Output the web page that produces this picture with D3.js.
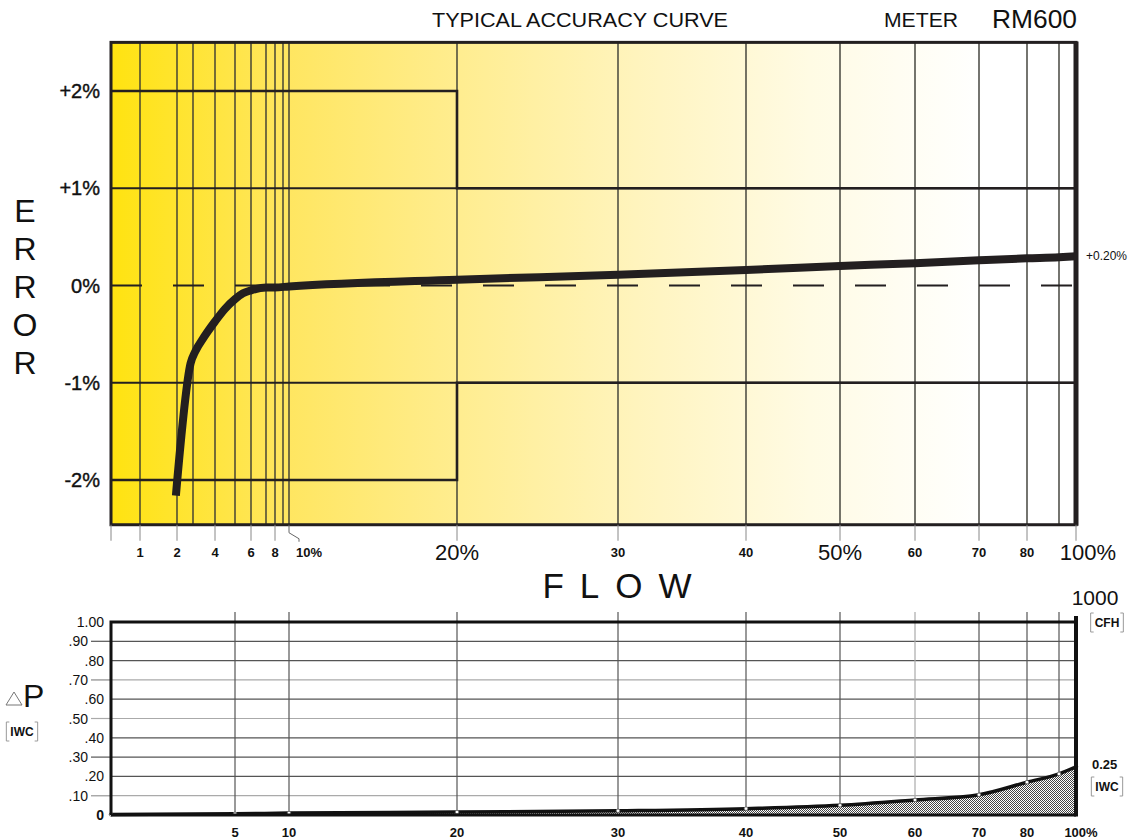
<!DOCTYPE html>
<html>
<head>
<meta charset="utf-8">
<script src="https://cdn.jsdelivr.net/npm/d3@7"></script>
<style>
  body { margin: 0; background: #fff; }
  text { font-family: "Liberation Sans", Arial, sans-serif; fill: #111; }
</style>
</head>
<body>
<script>
// accuracy curve (flow % vs error %)
const accFlow  = [1.97, 2.85, 3.1, 3.5, 4, 4.5, 5, 5.5, 6, 7, 8, 10, 20, 30, 40, 50, 60, 70, 80, 90, 100]
const accError = [-2.16, -0.80, -0.68, -0.53, -0.37, -0.24, -0.14, -0.08, -0.05, -0.02, -0.02, -0.01, 0.06, 0.11, 0.16, 0.20, 0.23, 0.26, 0.28, 0.29, 0.30]

// accuracy limits envelope
const limitFlow  = [0, 20, 20, 100]
const limitUpper = [2, 2, 1, 1]
const limitLower = [-2, -2, -1, -1]

// pressure drop curve (flow % vs IWC)
const dpFlow  = [0, 5, 10, 20, 30, 40, 50, 60, 70, 80, 90, 100]
const dpValue = [0.003, 0.006, 0.01, 0.015, 0.022, 0.033, 0.05, 0.078, 0.105, 0.17, 0.213, 0.25]

// ticks / gridlines
const errTicks = [2, 1, 0, -1, -2]
const errTickLabels = ['+2%', '+1%', '0%', '-1%', '-2%']
const topGrid = [1, 2, 3, 4, 5, 6, 7, 8, 9, 10, 20, 30, 40, 50, 60, 70, 80, 90]
const topTicks = [0, 1, 2, 4, 6, 8, 20, 30, 40, 50, 60, 70, 80, 100]
const topTickLabels = ['', '1', '2', '4', '6', '8', '20%', '30', '40', '50%', '60', '70', '80', '100%']
const bigLabels = ['20%', '50%', '100%']
const botGrid = [5, 10, 20, 30, 40, 50, 60, 70, 80, 90]
const botTicks = [5, 10, 20, 30, 40, 50, 60, 70, 80, 100]
const botTickLabels = ['5', '10', '20', '30', '40', '50', '60', '70', '80', '100%']
const dpTicks = [0, 0.1, 0.2, 0.3, 0.4, 0.5, 0.6, 0.7, 0.8, 0.9, 1.0]
const dpTickLabels = ['0', '.10', '.20', '.30', '.40', '.50', '.60', '.70', '.80', '.90', '1.00']
const dpLightRows = [0.1, 0.5, 0.7]

let svg = d3.select('body').append('svg')
    .attr('width', 1146)
    .attr('height', 839)

// flow axis is a hand-drawn, non-uniform scale -> piecewise linear
let xScale = d3.scaleLinear()
    .domain([0, 1, 2, 3, 4, 5, 6, 7, 8, 9, 10, 20, 30, 40, 50, 60, 70, 80, 90, 100])
    .range([111, 140, 177, 193, 215, 235, 251, 266, 275, 283, 289, 457, 618, 746, 840, 915, 979, 1027, 1059, 1076])

let yErr = d3.scaleLinear().domain([-2, 2]).range([480, 91])
let yDp = d3.scaleLinear().domain([0, 1]).range([815, 622])

let defs = svg.append('defs')
let grad = defs.append('linearGradient')
    .attr('id', 'bg').attr('gradientUnits', 'userSpaceOnUse')
    .attr('x1', 111).attr('x2', 985).attr('y1', 0).attr('y2', 0)
let stops = [[0, '#ffe310'], [0.2, '#ffe660'], [0.4, '#ffed90'], [0.6, '#fff4bd'], [0.8, '#fffbe4'], [1, '#ffffff']]
stops.forEach(s => grad.append('stop').attr('offset', s[0]).attr('stop-color', s[1]))

let pat = defs.append('pattern')
    .attr('id', 'hatch').attr('patternUnits', 'userSpaceOnUse')
    .attr('width', 2).attr('height', 2)
pat.append('rect').attr('width', 2).attr('height', 2).attr('fill', '#fff')
pat.append('rect').attr('x', 0).attr('y', 0).attr('width', 1).attr('height', 1).attr('fill', '#444')
pat.append('rect').attr('x', 1).attr('y', 1).attr('width', 1).attr('height', 1).attr('fill', '#444')

/******************************************
 * TOP: ACCURACY CHART
 ******************************************/
let topG = svg.append('g')
let x0 = xScale(0), x1 = xScale(100)
let yT = yErr(2.5), yB = yErr(-2.46)

topG.append('rect')
    .attr('x', x0).attr('y', yT)
    .attr('width', x1 - x0).attr('height', yB - yT)
    .attr('fill', 'url(#bg)')

topG.selectAll('.vgrid')
    .data(topGrid)
    .enter()
    .append('line')
        .attr('x1', d => xScale(d)).attr('x2', d => xScale(d))
        .attr('y1', yT).attr('y2', yB)
        .attr('stroke', '#3a3a33')
        .attr('stroke-width', 1.4)

// +-1% lines full width
topG.selectAll('.hgrid')
    .data([1, -1])
    .enter()
    .append('line')
        .attr('x1', x0).attr('x2', x1)
        .attr('y1', d => yErr(d)).attr('y2', d => yErr(d))
        .attr('stroke', '#231f20')
        .attr('stroke-width', 2)

// limit envelope
let limLine = d3.line()
    .x((d, i) => xScale(limitFlow[i]))
    .y(d => yErr(d))
topG.selectAll('.limit')
    .data([limitUpper, limitLower])
    .enter()
    .append('path')
        .attr('d', d => limLine(d))
        .attr('fill', 'none')
        .attr('stroke', '#231f20')
        .attr('stroke-width', 2.6)

// 0% dashed
topG.append('line')
    .attr('x1', x0).attr('x2', x1)
    .attr('y1', yErr(0)).attr('y2', yErr(0))
    .attr('stroke', '#231f20')
    .attr('stroke-width', 2)
    .attr('stroke-dasharray', '31,31')

// accuracy curve
let accLine = d3.line()
    .x((d, i) => xScale(accFlow[i]))
    .y(d => yErr(d))
    .curve(d3.curveMonotoneX)
topG.append('path')
    .attr('d', accLine(accError))
    .attr('fill', 'none')
    .attr('stroke', '#231f20')
    .attr('stroke-width', 8)

// frame
topG.append('rect')
    .attr('x', x0).attr('y', yT)
    .attr('width', x1 - x0).attr('height', yB - yT)
    .attr('fill', 'none')
    .attr('stroke', '#231f20')
    .attr('stroke-width', 3)
topG.append('line')
    .attr('x1', x1).attr('x2', x1).attr('y1', yT - 1).attr('y2', yB + 1)
    .attr('stroke', '#231f20').attr('stroke-width', 5)

// y labels
topG.selectAll('.ylab')
    .data(errTicks)
    .enter()
    .append('text')
        .attr('x', 100)
        .attr('y', d => yErr(d) + 7)
        .attr('text-anchor', 'end')
        .attr('font-size', 20)
        .attr('stroke', '#111').attr('stroke-width', 0.4)
        .text((d, i) => errTickLabels[i])

// x ticks + labels
topG.selectAll('.xtick')
    .data(topTicks)
    .enter()
    .append('line')
        .attr('x1', d => xScale(d)).attr('x2', d => xScale(d))
        .attr('y1', yB).attr('y2', yB + 16)
        .attr('stroke', '#888').attr('stroke-width', 1)
topG.selectAll('.xlab')
    .data(topTicks)
    .enter()
    .append('text')
        .attr('x', (d, i) => xScale(d) + (d === 100 ? 12 : 0))
        .attr('y', (d, i) => bigLabels.includes(topTickLabels[i]) ? 560 : 557)
        .attr('text-anchor', 'middle')
        .attr('font-size', (d, i) => bigLabels.includes(topTickLabels[i]) ? 22 : 13)
        .attr('font-weight', (d, i) => bigLabels.includes(topTickLabels[i]) ? 'normal' : 'bold')
        .text((d, i) => topTickLabels[i])

// 10% leader
let x10 = xScale(10)
topG.append('path')
    .attr('d', `M${x10},${yB}V${yB + 8}L${x10 + 10},${yB + 14}V${yB + 17}`)
    .attr('fill', 'none').attr('stroke', '#666').attr('stroke-width', 1)
topG.append('text')
    .attr('x', x10 + 20).attr('y', 557)
    .attr('text-anchor', 'middle')
    .attr('font-size', 13).attr('font-weight', 'bold')
    .text('10%')

topG.append('text')
    .attr('x', x1 + 10).attr('y', yErr(0.3) + 4)
    .attr('font-size', 12)
    .text('+0.20%')

// titles
svg.append('text').attr('x', 432).attr('y', 27).attr('font-size', 20)
    .attr('textLength', 296).attr('lengthAdjust', 'spacingAndGlyphs')
    .text('TYPICAL ACCURACY CURVE')
svg.append('text').attr('x', 884).attr('y', 27).attr('font-size', 20)
    .attr('textLength', 74).attr('lengthAdjust', 'spacingAndGlyphs')
    .text('METER')
svg.append('text').attr('x', 992).attr('y', 28).attr('font-size', 25)
    .attr('textLength', 85).attr('lengthAdjust', 'spacingAndGlyphs')
    .text('RM600')

svg.append('text').attr('x', 625).attr('y', 598)
    .attr('text-anchor', 'middle').attr('font-size', 35)
    .attr('letter-spacing', 16)
    .text('FLOW')

svg.selectAll('.err')
    .data('ERROR'.split(''))
    .enter()
    .append('text')
        .attr('x', 25)
        .attr('y', (d, i) => 222 + i * 38)
        .attr('text-anchor', 'middle')
        .attr('font-size', 32)
        .text(d => d)

/******************************************
 * BOTTOM: PRESSURE DROP CHART
 ******************************************/
let botG = svg.append('g')
let bT = yDp(1), bB = yDp(0)

botG.selectAll('.bh')
    .data(dpTicks.filter(d => d > 0 && d < 1))
    .enter()
    .append('line')
        .attr('x1', d => dpLightRows.includes(d) ? 91 : x0).attr('x2', x1)
        .attr('y1', d => yDp(d)).attr('y2', d => yDp(d))
        .attr('stroke', d => dpLightRows.includes(d) ? '#aaa' : '#555')
        .attr('stroke-width', 1.2)
botG.selectAll('.bhtick')
    .data(dpTicks.filter((d, i) => i % 2 === 1))
    .enter()
    .append('line')
        .attr('x1', 91).attr('x2', x0)
        .attr('y1', d => yDp(d)).attr('y2', d => yDp(d))
        .attr('stroke', d => dpLightRows.includes(d) ? '#aaa' : '#555')
        .attr('stroke-width', 1.2)

botG.selectAll('.bv')
    .data(botGrid)
    .enter()
    .append('line')
        .attr('x1', d => xScale(d)).attr('x2', d => xScale(d))
        .attr('y1', bT - 10).attr('y2', bB)
        .attr('stroke', d => d === 60 ? '#aaa' : '#555')
        .attr('stroke-width', 1.2)

let dpArea = d3.area()
    .x((d, i) => xScale(dpFlow[i]))
    .y0(bB)
    .y1(d => yDp(d))
    .curve(d3.curveMonotoneX)
botG.append('path')
    .attr('d', dpArea(dpValue))
    .attr('fill', 'url(#hatch)')

let dpLine = d3.line()
    .x((d, i) => xScale(dpFlow[i]))
    .y(d => yDp(d))
    .curve(d3.curveMonotoneX)
botG.append('path')
    .attr('d', dpLine(dpValue))
    .attr('fill', 'none')
    .attr('stroke', '#111')
    .attr('stroke-width', 3.5)

botG.selectAll('.dot')
    .data(dpValue)
    .enter()
    .append('circle')
        .attr('cx', (d, i) => xScale(dpFlow[i]))
        .attr('cy', d => yDp(d))
        .attr('r', 1.8)
        .attr('fill', '#fff').attr('stroke', '#666').attr('stroke-width', 0.8)

// frame
botG.append('path')
    .attr('d', `M${x0},${bB}V${bT}H${x1}`)
    .attr('fill', 'none').attr('stroke', '#111').attr('stroke-width', 3)
botG.append('line')
    .attr('x1', x0).attr('x2', x1).attr('y1', bB).attr('y2', bB)
    .attr('stroke', '#111').attr('stroke-width', 3)
botG.append('line')
    .attr('x1', x1).attr('x2', x1).attr('y1', bT - 6).attr('y2', bB + 1.5)
    .attr('stroke', '#111').attr('stroke-width', 4)

botG.selectAll('.dplab')
    .data(dpTicks)
    .enter()
    .append('text')
        .attr('x', (d, i) => i % 2 === 1 ? 88 : 104)
        .attr('y', d => yDp(d) + 5)
        .attr('text-anchor', 'end')
        .attr('font-size', 14)
        .attr('font-weight', d => d === 0 ? 'bold' : 'normal')
        .text((d, i) => dpTickLabels[i])

botG.selectAll('.bxlab')
    .data(botTicks)
    .enter()
    .append('text')
        .attr('x', d => xScale(d) + (d === 100 ? 5 : 0))
        .attr('y', 837)
        .attr('text-anchor', 'middle')
        .attr('font-size', 13)
        .attr('font-weight', 'bold')
        .text((d, i) => botTickLabels[i])

// side labels
function bracketLabel(x, y, label) {
    let g = svg.append('g')
    let t = g.append('text').attr('x', x).attr('y', y)
        .attr('text-anchor', 'middle').attr('font-size', 12).attr('font-weight', 'bold')
        .text(label)
    let w = t.node().getComputedTextLength() / 2 + 4
    g.append('path')
        .attr('d', `M${x - w + 3},${y - 14}H${x - w}V${y + 5}H${x - w + 3}M${x + w - 3},${y - 14}H${x + w}V${y + 5}H${x + w - 3}`)
        .attr('fill', 'none').attr('stroke', '#999').attr('stroke-width', 1)
}

svg.append('text').attr('x', 1095).attr('y', 605)
    .attr('text-anchor', 'middle').attr('font-size', 21).text('1000')
bracketLabel(1107, 627, 'CFH')
svg.append('text').attr('x', 1092).attr('y', 769).attr('font-size', 13).attr('font-weight', 'bold').text('0.25')
bracketLabel(1107, 791, 'IWC')

svg.append('path')
    .attr('d', 'M6,705L14,692L22,705Z')
    .attr('fill', 'none').attr('stroke', '#777').attr('stroke-width', 1)
svg.append('text').attr('x', 23).attr('y', 707).attr('font-size', 32).text('P')
bracketLabel(22, 736, 'IWC')
</script>
</body>
</html>
